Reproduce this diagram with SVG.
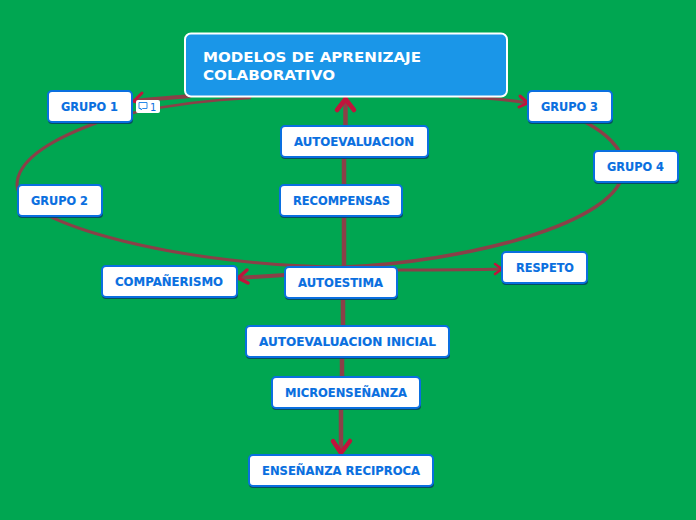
<svg xmlns="http://www.w3.org/2000/svg" width="696" height="520" viewBox="0 0 696 520">
<style>
.n{fill:#fff;stroke:#0a6fe0;stroke-width:2}
.s{fill:#07465f;opacity:.9}
.t{font-family:"DejaVu Sans",Verdana,sans-serif;font-weight:700;font-size:11.6px;fill:#0a6fe0;text-anchor:middle;stroke:#0a6fe0;stroke-width:.15}
.h{font-family:"DejaVu Sans",Verdana,sans-serif;font-weight:700;font-size:14px;fill:#fff}
.c{fill:none;stroke:#8a4048;stroke-linecap:round}
.a{fill:none;stroke:#c0143c;stroke-linecap:round;stroke-linejoin:round}
</style>
<rect width="696" height="520" fill="#00a651"/>
<g id="connectors">
<path class="c" stroke-width="2.500" d="M250 98C205 100 165 106 132 113"/>
<path class="c" stroke-width="3" d="M96 123C50 140 17 160 17 185C17 225 190 267 345 267"/>
<path class="c" stroke-width="3.500" d="M345 267C460 262 622 225 624 168C624 148 604 132 585 122"/>
<path class="c" stroke-width="3" d="M460 97C490 98 510 100 527 103"/>
<path class="c" stroke-width="4" d="M190 96C170 98 150 99 134 101"/>
<path class="c" stroke-width="4.500" d="M345.500 98V130M344 157V185M344 216V267"/>
<path class="c" stroke-width="4.500" d="M343 299V326M342 357V377"/>
<path class="c" stroke-width="4.500" d="M341 408V452"/>
<path class="c" stroke-width="4" d="M285 275L238 278"/>
<path class="c" stroke-width="3" d="M397 270C440 270 470 270 502 269"/>
<path class="a" stroke-width="4.500" d="M337 110L345.500 99L354 110"/>
<path class="a" stroke-width="3" d="M142 93L134 101L142 105"/>
<path class="a" stroke-width="3" d="M520 96L528 103L519 107"/>
<path class="a" stroke-width="3.500" d="M247 270L238 278L248 283"/>
<path class="a" stroke-width="2.500" d="M495 264L502 269L495 274"/>
<path class="a" stroke-width="4.500" d="M333 441L341 453L350 441"/>
</g>
<g id="title">
<rect x="185" y="33.500" width="322" height="63" rx="6" fill="#1a96e8" stroke="#fff" stroke-width="2"/>
<text class="h" x="203" y="62" textLength="218" lengthAdjust="spacingAndGlyphs">MODELOS DE APRENIZAJE</text>
<text class="h" x="203" y="80" textLength="132" lengthAdjust="spacingAndGlyphs">COLABORATIVO</text>
</g>
<g id="grupo1"><rect class="s" x="48" y="93" width="85" height="31" rx="4"/><rect class="n" x="48" y="91" width="84" height="31" rx="4"/><text class="t" x="89.500" y="111" textLength="57" lengthAdjust="spacingAndGlyphs">GRUPO 1</text></g>
<g id="comment"><rect x="136" y="100" width="24" height="13" rx="2" fill="#fff"/><path d="M139 102.500h8v6h-4.500l-1.500 1.500v-1.500h-2z" fill="none" stroke="#2a8ae8"/><text x="150" y="110.500" font-family="DejaVu Sans,sans-serif" font-size="10" fill="#0a6fe0">1</text></g>
<g id="grupo2"><rect class="s" x="18" y="187" width="85" height="31" rx="4"/><rect class="n" x="18" y="185" width="84" height="31" rx="4"/><text class="t" x="59.500" y="205" textLength="57" lengthAdjust="spacingAndGlyphs">GRUPO 2</text></g>
<g id="grupo3"><rect class="s" x="528" y="93" width="85" height="31" rx="4"/><rect class="n" x="528" y="91" width="84" height="31" rx="4"/><text class="t" x="569.500" y="111" textLength="57" lengthAdjust="spacingAndGlyphs">GRUPO 3</text></g>
<g id="grupo4"><rect class="s" x="594" y="153" width="85" height="31" rx="4"/><rect class="n" x="594" y="151" width="84" height="31" rx="4"/><text class="t" x="635.500" y="171" textLength="57" lengthAdjust="spacingAndGlyphs">GRUPO 4</text></g>
<g id="autoevaluacion"><rect class="s" x="281" y="128" width="148" height="31" rx="4"/><rect class="n" x="281" y="126" width="147" height="31" rx="4"/><text class="t" x="354" y="146" textLength="120" lengthAdjust="spacingAndGlyphs">AUTOEVALUACION</text></g>
<g id="recompensas"><rect class="s" x="280" y="187" width="123" height="31" rx="4"/><rect class="n" x="280" y="185" width="122" height="31" rx="4"/><text class="t" x="341.500" y="205" textLength="97" lengthAdjust="spacingAndGlyphs">RECOMPENSAS</text></g>
<g id="autoestima"><rect class="s" x="285" y="269" width="113" height="31" rx="4"/><rect class="n" x="285" y="267" width="112" height="31" rx="4"/><text class="t" x="340.500" y="287" textLength="85" lengthAdjust="spacingAndGlyphs">AUTOESTIMA</text></g>
<g id="companerismo"><rect class="s" x="102" y="268" width="136" height="31" rx="4"/><rect class="n" x="102" y="266" width="135" height="31" rx="4"/><text class="t" x="169" y="286" textLength="108" lengthAdjust="spacingAndGlyphs">COMPAÑERISMO</text></g>
<g id="respeto"><rect class="s" x="502" y="254" width="86" height="31" rx="4"/><rect class="n" x="502" y="252" width="85" height="31" rx="4"/><text class="t" x="545" y="272" textLength="58" lengthAdjust="spacingAndGlyphs">RESPETO</text></g>
<g id="autoevaluacion-inicial"><rect class="s" x="246" y="328" width="204" height="31" rx="4"/><rect class="n" x="246" y="326" width="203" height="31" rx="4"/><text class="t" x="347.500" y="346" textLength="177" lengthAdjust="spacingAndGlyphs">AUTOEVALUACION INICIAL</text></g>
<g id="microensenanza"><rect class="s" x="272" y="379" width="149" height="31" rx="4"/><rect class="n" x="272" y="377" width="148" height="31" rx="4"/><text class="t" x="346" y="397" textLength="122" lengthAdjust="spacingAndGlyphs">MICROENSEÑANZA</text></g>
<g id="ensenanza-reciproca"><rect class="s" x="249" y="457" width="185" height="31" rx="4"/><rect class="n" x="249" y="455" width="184" height="31" rx="4"/><text class="t" x="341" y="475" textLength="158" lengthAdjust="spacingAndGlyphs">ENSEÑANZA RECIPROCA</text></g>
</svg>
